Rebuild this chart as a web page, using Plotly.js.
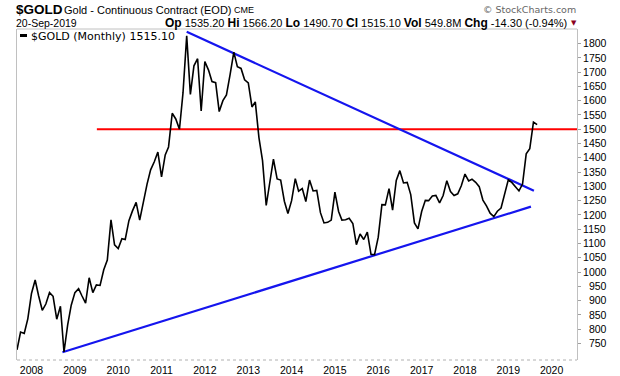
<!DOCTYPE html>
<html>
<head>
<meta charset="utf-8">
<script src="https://cdn.plot.ly/plotly-3.0.1.min.js"></script>
<style>html,body{margin:0;padding:0;background:#fff;}#chart{width:620px;height:376px;}</style>
</head>
<body>
<div id="chart"></div>
<script>
// ---- data (monthly closes) ----
const firstMonth = [2007, 9]; // Sep 2007
const closes = [
  728, 790, 785, 836,                                              // 2007 Sep-Dec
  925, 972, 917, 866, 888, 928, 915, 835, 880, 720, 815, 884,      // 2008
  928, 942, 917, 891, 980, 928, 955, 953, 1008, 1042, 1183, 1095,  // 2009
  1082, 1117, 1114, 1180, 1214, 1244, 1182, 1248, 1308, 1358, 1386, 1420, // 2010
  1333, 1410, 1438, 1556, 1536, 1500, 1628, 1827, 1622, 1722, 1747, 1564, // 2011
  1737, 1707, 1667, 1663, 1562, 1600, 1620, 1692, 1770, 1719, 1713, 1673, // 2012
  1662, 1578, 1596, 1470, 1390, 1233, 1320, 1395, 1326, 1322, 1248, 1205, // 2013
  1250, 1327, 1283, 1292, 1247, 1322, 1284, 1286, 1208, 1172, 1174, 1182, // 2014
  1280, 1212, 1182, 1183, 1188, 1170, 1096, 1133, 1114, 1140, 1062, 1061, // 2015
  1122, 1236, 1235, 1292, 1217, 1321, 1355, 1312, 1314, 1271, 1172, 1151, // 2016
  1212, 1251, 1250, 1266, 1268, 1242, 1268, 1320, 1282, 1268, 1274, 1302, // 2017
  1343, 1319, 1325, 1314, 1299, 1252, 1232, 1206, 1194, 1213, 1224, 1275, // 2018
  1323, 1313, 1298, 1284, 1308, 1414, 1432, 1525, 1516             // 2019 Jan-Sep
];
const upperTrendDates = ['2011-08-01', '2019-08-05'];
const upperTrendValues = [1841, 1285];
const lowerTrendDates = ['2008-09-18', '2019-07-11'];
const lowerTrendValues = [719, 1229];
const resistanceDates = ['2009-07-05', '2020-08-02'];
const resistanceValues = [1500, 1500];
const yearTicks = [2008, 2009, 2010, 2011, 2012, 2013, 2014, 2015, 2016, 2017, 2018, 2019, 2020];
const priceTicks = [750, 800, 850, 900, 950, 1000, 1050, 1100, 1150, 1200, 1250, 1300, 1350,
  1400, 1450, 1500, 1550, 1600, 1650, 1700, 1750, 1800];

const headerSymbol = '$GOLD';
const headerName = 'Gold - Continuous Contract (EOD)';
const headerExchange = 'CME';
const headerDate = '20-Sep-2019';
const quoteLabels = ['Op', 'Hi', 'Lo', 'Cl', 'Vol', 'Chg'];
const quoteValues = ['1535.20', '1566.20', '1490.70', '1515.10', '549.8M', '-14.30 (-0.94%)'];
const legendText = '$GOLD (Monthly) 1515.10';

// ---- build ----
const dates = closes.map((_, i) => {
  const m0 = firstMonth[1] - 1 + i;
  const y = firstMonth[0] + Math.floor(m0 / 12);
  const m = (m0 % 12) + 1;
  return y + '-' + String(m).padStart(2, '0') + '-01';
});

const W = 620, H = 376;
const L = 17, R = 577, T = 29, B = 360;
const px = x => (x - L) / (R - L);
const py = y => (B - y) / (B - T);

const traces = [
  {x: resistanceDates, y: resistanceValues, mode: 'lines', line: {color: '#ff0000', width: 2}, hoverinfo: 'skip'},
  {x: upperTrendDates, y: upperTrendValues, mode: 'lines', line: {color: '#1515ee', width: 2.2}, hoverinfo: 'skip'},
  {x: lowerTrendDates, y: lowerTrendValues, mode: 'lines', line: {color: '#1515ee', width: 2.2}, hoverinfo: 'skip'},
  {x: dates, y: closes, mode: 'lines', line: {color: '#000000', width: 1.6}, name: legendText}
];

const F = 'Liberation Sans, Arial, sans-serif';
const quoteText = quoteLabels.map((k, i) =>
  '<span style="font-size:12px"><b>' + k + '</b></span> ' + quoteValues[i]).join(' ');

const annotations = [
  {text: '<b>' + headerSymbol + '</b>', x: px(15), y: py(9), xanchor: 'left', yanchor: 'middle', font: {family: F, size: 13.5, color: '#000'}},
  {text: headerName, x: px(63), y: py(9.5), xanchor: 'left', yanchor: 'middle', font: {family: F, size: 11, color: '#000'}},
  {text: headerExchange, x: px(233), y: py(10), xanchor: 'left', yanchor: 'middle', font: {family: F, size: 9, color: '#000'}},
  {text: headerDate, x: px(15), y: py(23), xanchor: 'left', yanchor: 'middle', font: {family: F, size: 10.5, color: '#000'}},
  {text: quoteText, x: px(164), y: py(23), xanchor: 'left', yanchor: 'middle', font: {family: F, size: 11, color: '#000'}},
  {text: '\u25BC', x: px(570), y: py(23), xanchor: 'left', yanchor: 'middle', font: {family: 'DejaVu Sans', size: 7, color: '#8b0020'}},
  {text: '\u00A9 StockCharts.com', x: px(577), y: py(9), xanchor: 'right', yanchor: 'middle', font: {family: 'DejaVu Sans, sans-serif', size: 9.5, color: '#666'}},
  {text: legendText, x: px(30), y: py(36), xanchor: 'left', yanchor: 'middle', font: {family: 'DejaVu Sans, Verdana, sans-serif', size: 11, color: '#000'}}
].map(a => Object.assign({xref: 'paper', yref: 'paper', showarrow: false, borderpad: 0}, a));

const shapes = [
  {type: 'line', xref: 'paper', yref: 'paper', x0: 0, x1: 1, y0: 1, y1: 1, line: {color: '#c0c0c0', width: 1}},
  {type: 'line', xref: 'paper', yref: 'paper', x0: 0, x1: 1, y0: 0, y1: 0, line: {color: '#b0b0b0', width: 1, dash: 'dot'}},
  {type: 'line', xref: 'paper', yref: 'paper', x0: px(20), x1: px(27), y0: py(35.5), y1: py(35.5), line: {color: '#000', width: 3}}
];

const layout = {
  width: W, height: H,
  margin: {l: L, r: W - R, t: T, b: H - B, pad: 0},
  paper_bgcolor: '#fff', plot_bgcolor: '#fff',
  showlegend: false,
  xaxis: {
    type: 'date', range: ['2007-09-01', '2020-08-02'],
    tickvals: yearTicks.map(y => y + '-01-01'), ticktext: yearTicks.map(String),
    ticks: '', showgrid: false, zeroline: false, showline: false,
    tickfont: {family: F, size: 10.5, color: '#000'}, ticklabelstandoff: 2
  },
  yaxis: {
    side: 'right', range: [692, 1851],
    tickvals: priceTicks, ticktext: priceTicks.map(v => (v < 1000 ? '\u2007' : '') + v),
    ticks: 'outside', ticklen: 3, tickcolor: '#a0a0a0', tickwidth: 1,
    showgrid: false, zeroline: false, showline: true, mirror: true, linecolor: '#c0c0c0', linewidth: 1,
    tickfont: {family: F, size: 10.5, color: '#000'}
  },
  annotations: annotations,
  shapes: shapes
};

Plotly.newPlot('chart', traces, layout, {displayModeBar: false, staticPlot: true});
</script>
</body>
</html>
